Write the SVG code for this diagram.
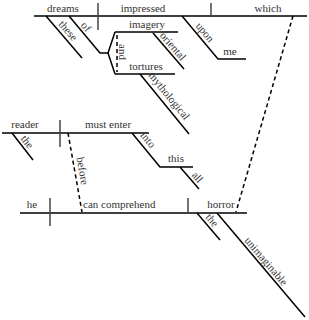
<svg xmlns="http://www.w3.org/2000/svg" width="309" height="320" viewBox="0 0 309 320">
<style>
text{font-family:"Liberation Serif","Times New Roman",serif;font-size:11px;fill:#333}
.m{text-anchor:middle}
line,polyline{stroke:#000;stroke-width:1.5;fill:none}
.dv{stroke:#444}
.d{stroke-dasharray:4 3}
</style>
<rect width="309" height="320" fill="#fff"/>
<g id="connectors">
<line x1="293" y1="16" x2="236" y2="212" class="d"/>
<line x1="68" y1="133" x2="82" y2="212" class="d"/>
<line x1="117" y1="35" x2="117" y2="72" class="d"/>
</g>
<g id="clause1">
<line x1="34" y1="16" x2="307" y2="16"/>
<line x1="98" y1="3" x2="98" y2="30" class="dv"/>
<line x1="211" y1="3" x2="211" y2="16" class="dv"/>
<text class="m" x="63" y="12">dreams</text>
<text class="m" x="143" y="12">impressed</text>
<text class="m" x="268" y="12">which</text>
</g>
<g id="these">
<line x1="46" y1="16" x2="82" y2="58"/>
<text class="m" transform="translate(63,35) rotate(49.4)" y="-3">these</text>
</g>
<g id="of">
<polyline points="69,16 100,53 108,53"/>
<text class="m" transform="translate(81,31) rotate(50)" y="-3">of</text>
<polyline points="115,32 108,53 115,74"/>
<text transform="translate(117,44) rotate(90)" y="-2">and</text>
</g>
<g id="imagery">
<line x1="115" y1="32" x2="178" y2="32"/>
<text class="m" x="147" y="28">imagery</text>
<line x1="153" y1="33" x2="184" y2="69"/>
<text class="m" transform="translate(168,50.5) rotate(49)" y="-3">oriental</text>
</g>
<g id="tortures">
<line x1="115" y1="74" x2="175" y2="74"/>
<text class="m" x="146" y="70">tortures</text>
<line x1="140" y1="74" x2="189" y2="134"/>
<text class="m" transform="translate(164,100) rotate(50.8)" y="-3">mythological</text>
</g>
<g id="upon">
<polyline points="182,16 218,59 246,59"/>
<text class="m" transform="translate(200,36.5) rotate(50)" y="-3">upon</text>
<text class="m" x="230" y="55">me</text>
</g>
<g id="clause2">
<line x1="2" y1="133" x2="149" y2="133"/>
<line x1="60" y1="120" x2="60" y2="147" class="dv"/>
<text class="m" x="25" y="128">reader</text>
<text class="m" x="108" y="128">must enter</text>
<line x1="12" y1="133" x2="33" y2="160"/>
<text class="m" transform="translate(22,146) rotate(52)" y="-3">the</text>
<text class="m" transform="translate(76,172) rotate(80)" y="-3">before</text>
</g>
<g id="into">
<polyline points="132,133 160,167 193,167"/>
<text class="m" transform="translate(143,144) rotate(50.5)" y="-3">into</text>
<text class="m" x="176" y="162">this</text>
<line x1="180" y1="167" x2="199" y2="189"/>
<text class="m" transform="translate(192.5,181.5) rotate(49)" y="-3">all</text>
</g>
<g id="clause3">
<line x1="20" y1="213" x2="247" y2="213"/>
<line x1="50" y1="198" x2="50" y2="226" class="dv"/>
<line x1="188" y1="198" x2="188" y2="213" class="dv"/>
<text class="m" x="32" y="208">he</text>
<text x="83" y="208">can comprehend</text>
<text class="m" x="221" y="208">horror</text>
</g>
<g id="horror-mods">
<line x1="197" y1="213" x2="220" y2="240"/>
<text class="m" transform="translate(207,224.5) rotate(49.6)" y="-3">the</text>
<line x1="217" y1="213" x2="305" y2="317"/>
<text class="m" transform="translate(261,265.5) rotate(49.8)" y="-3">unimaginable</text>
</g>
</svg>
